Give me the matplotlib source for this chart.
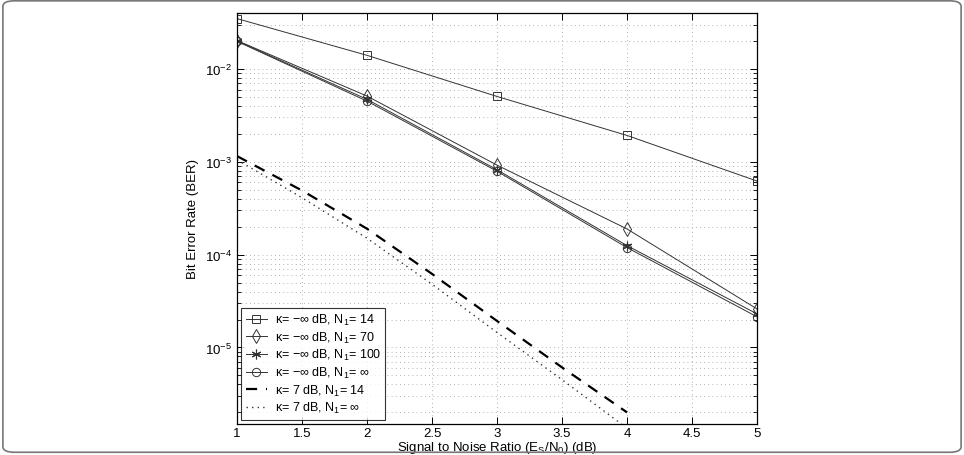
import matplotlib
matplotlib.use("Agg")
import matplotlib.pyplot as plt
from matplotlib.patches import FancyBboxPatch
from matplotlib.ticker import LogLocator, FixedLocator, NullFormatter

plt.rcParams["font.family"] = ["Liberation Sans", "DejaVu Sans"]
plt.rcParams["mathtext.fontset"] = "custom"
plt.rcParams["mathtext.rm"] = "Liberation Sans"
plt.rcParams["mathtext.it"] = "Liberation Sans:italic"
plt.rcParams["mathtext.default"] = "regular"

# data
snr = [1, 2, 3, 4, 5]
ber_n14 = [3.48e-2, 1.40e-2, 5.05e-3, 1.92e-3, 6.2e-4]
ber_n70 = [2.02e-2, 5.1e-3, 9.2e-4, 1.89e-4, 2.6e-5]
ber_n100 = [2.0e-2, 4.7e-3, 8.2e-4, 1.25e-4, 2.3e-5]
ber_ninf = [1.98e-2, 4.5e-3, 7.9e-4, 1.19e-4, 2.14e-5]

snr_k7 = [1, 1.5, 2, 2.5, 3, 3.5, 4]
ber_k7_n14 = [1.15e-3, 4.9e-4, 1.9e-4, 6.2e-5, 1.93e-5, 6.1e-6, 2.0e-6]
ber_k7_ninf = [1.05e-3, 4.1e-4, 1.5e-4, 4.8e-5, 1.45e-5, 4.5e-6, 1.35e-6]

labels = [
    "\u03ba= \u2212\u221e dB, N$_1$= 14",
    "\u03ba= \u2212\u221e dB, N$_1$= 70",
    "\u03ba= \u2212\u221e dB, N$_1$= 100",
    "\u03ba= \u2212\u221e dB, N$_1$= \u221e",
    "\u03ba= 7 dB, N$_1$= 14",
    "\u03ba= 7 dB, N$_1$= \u221e",
]

fig = plt.figure(figsize=(9.64, 4.56), dpi=100)
ax = fig.add_axes([0.2459, 0.068, 0.5394, 0.9013])

lw = 0.7
c = "#333333"
ax.plot(snr, ber_n14, color=c, lw=lw, marker="s", markersize=6,
        markerfacecolor="none", markeredgewidth=0.7, label=labels[0])
ax.plot(snr, ber_n70, color=c, lw=lw, marker="d", markersize=7,
        markerfacecolor="none", markeredgewidth=0.7, label=labels[1])
ax.plot(snr, ber_n100, color=c, lw=lw, marker=(6, 2, 0), markersize=7,
        markeredgewidth=0.8, label=labels[2])
ax.plot(snr, ber_ninf, color=c, lw=lw, marker="o", markersize=6,
        markerfacecolor="none", markeredgewidth=0.7, label=labels[3])
ax.plot(snr_k7, ber_k7_n14, color="black", lw=1.6, linestyle=(0, (5, 4)), label=labels[4])
ax.plot(snr_k7, ber_k7_ninf, color=c, lw=1.0, linestyle=(0, (1, 3)), label=labels[5])

ax.set_yscale("log")
ax.set_xlim(1, 5)
ax.set_ylim(1.5e-6, 4e-2)
ax.xaxis.set_major_locator(FixedLocator([1, 1.5, 2, 2.5, 3, 3.5, 4, 4.5, 5]))
ax.set_xticklabels(["1", "1.5", "2", "2.5", "3", "3.5", "4", "4.5", "5"])
ax.yaxis.set_major_locator(FixedLocator([1e-5, 1e-4, 1e-3, 1e-2]))
ax.set_yticklabels(["$10^{-5}$", "$10^{-4}$", "$10^{-3}$", "$10^{-2}$"])
ax.yaxis.set_minor_locator(LogLocator(base=10, subs=range(2, 10), numticks=20))
ax.yaxis.set_minor_formatter(NullFormatter())

ax.tick_params(which="both", direction="in", top=True, right=True, labelsize=9.5)
ax.tick_params(which="major", length=5, width=0.7)
ax.tick_params(which="minor", length=3, width=0.6)
ax.tick_params(axis="x", pad=2)

ax.grid(which="major", axis="both", linestyle=(0, (1, 4)), color="#999999", linewidth=0.6)
ax.grid(which="minor", axis="y", linestyle=(0, (1, 4)), color="#999999", linewidth=0.6)
for s in ax.spines.values():
    s.set_linewidth(0.9)

ax.set_xlabel("Signal to Noise Ratio (E$_S$/N$_0$) (dB)", fontsize=9.5, labelpad=0)
ax.set_ylabel("Bit Error Rate (BER)", fontsize=9.5, labelpad=4)

leg = ax.legend(loc="lower left", fontsize=9, frameon=True, fancybox=False,
                edgecolor="black", handlelength=1.7, handletextpad=0.6,
                borderaxespad=0.35, labelspacing=0.2, borderpad=0.35)
leg.get_frame().set_linewidth(0.8)

# rounded grey frame round the whole picture
frame = FancyBboxPatch((0.003, 0.006), 0.994, 0.99, boxstyle="round,pad=0,rounding_size=0.012",
                       transform=fig.transFigure, facecolor="none", edgecolor="#777777",
                       linewidth=1.2, clip_on=False)
fig.patches.append(frame)

fig.savefig("out.png", dpi=100)
